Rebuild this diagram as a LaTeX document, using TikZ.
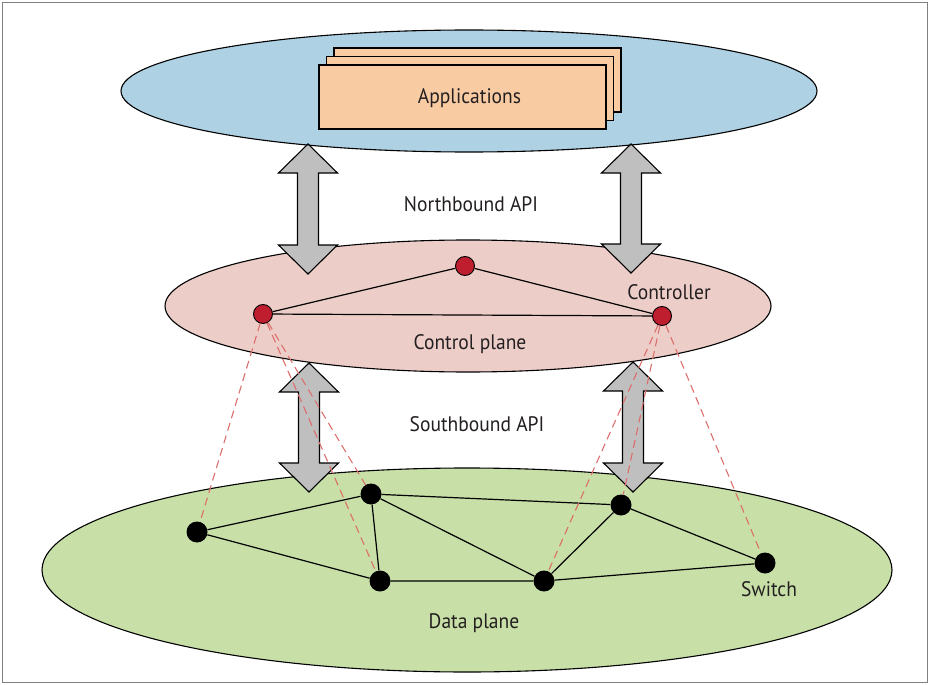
\documentclass[tikz,border=0pt]{standalone}
\usepackage{fontspec}
\setmainfont[FakeStretch=0.93]{PT Sans}
\usepackage{tikz}
\usetikzlibrary{positioning}

\definecolor{appblue}{RGB}{174,209,227}
\definecolor{ctrlpink}{RGB}{237,205,200}
\definecolor{datagreen}{RGB}{200,224,167}
\definecolor{apppeach}{RGB}{248,203,163}
\definecolor{ctrlred}{RGB}{190,30,45}
\definecolor{dashred}{RGB}{220,110,108}
\definecolor{arrowgray}{RGB}{191,191,191}
\definecolor{txtgray}{RGB}{35,31,32}

\tikzset{
  plane/.style={draw=black, line width=1.1pt},
  appbox/.style={draw=black, fill=apppeach, line width=1.1pt, minimum width=287pt, minimum height=64pt, inner sep=0pt},
  blockarrow/.style={draw=black, fill=arrowgray, line width=1.1pt, line join=miter},
  ctrl/.style={circle, draw=black, fill=ctrlred, line width=0.9pt, minimum size=19pt, inner sep=0pt},
  switch/.style={circle, fill=black, minimum size=21pt, inner sep=0pt},
  link/.style={line width=1.2pt},
  southlink/.style={draw=dashred, line width=1.1pt, dash pattern=on 8pt off 5pt},
  lbl/.style={text=txtgray, font=\fontsize{21}{25}\selectfont, inner sep=0pt}
}

% double headed block arrow: x, top y, bottom y
\newcommand{\apiarrow}[3]{%
  \draw[blockarrow] (#1,#2) -- ++(29.5,29) -- ++(-19,0) -- (#1+10.5,#3-29) -- ++(19,0)
    -- (#1,#3) -- ++(-29.5,-29) -- ++(19,0) -- (#1-10.5,#2+29) -- ++(-19,0) -- cycle;}

\begin{document}
\begin{tikzpicture}[x=1pt, y=-1pt]
\useasboundingbox (0,0) rectangle (930,685);
\draw[gray, line width=1pt] (2.5,2.5) rectangle (927.5,682.5);

% planes
\draw[plane, fill=appblue] (469,91) ellipse [x radius=348, y radius=61];
\draw[plane, fill=ctrlpink] (468,306) ellipse [x radius=303, y radius=66];
\draw[plane, fill=datagreen] (467,570) ellipse [x radius=425, y radius=102];

% applications
\node[appbox] (app3) at (477.5,80) {};
\node[appbox] (app2) at (470,88.5) {};
\node[appbox] (app1) at (462.5,97) {};
\node[lbl] (applbl) at ([xshift=7pt,yshift=-1pt]app1.center) {Applications};

% northbound / southbound
\apiarrow{308}{144}{274}
\apiarrow{631}{144}{273}
\apiarrow{309}{363}{492}
\apiarrow{633}{362}{492}
\node[lbl] (north) at (471,204) {Northbound API};
\node[lbl] (south) at (477,424) {Southbound API};

% controllers
\node[ctrl] (c1) at (263,314) {};
\node[ctrl] (c2) at (465,266) {};
\node[ctrl] (c3) at (662,316) {};
\node[lbl] (ctrllbl) at (669,292) {Controller};
\node[lbl] (cplane) at (470,344) {Control plane};

% switches
\node[switch] (s1) at (197,532) {};
\node[switch] (s2) at (371,494) {};
\node[switch] (s3) at (380,581) {};
\node[switch] (s4) at (544,581) {};
\node[switch] (s5) at (621,505) {};
\node[switch] (s6) at (765,563) {};
\node[lbl] (swlbl) at (769,589) {Switch};
\node[lbl] (dplane) at (474,623) {Data plane};

\draw[link] (c1) -- (c2) -- (c3) -- (c1);
\draw[link] (s1) -- (s2) -- (s3) -- (s1);
\draw[link] (s2) -- (s4);
\draw[link] (s2) -- (s5);
\draw[link] (s3) -- (s4) -- (s5) -- (s6) -- (s4);

\draw[southlink] (c1) -- (s1);
\draw[southlink] (c1) -- (s2);
\draw[southlink] (c1) -- (s3);
\draw[southlink] (c3) -- (s4);
\draw[southlink] (c3) -- (s5);
\draw[southlink] (c3) -- (s6);

\end{tikzpicture}
\end{document}
